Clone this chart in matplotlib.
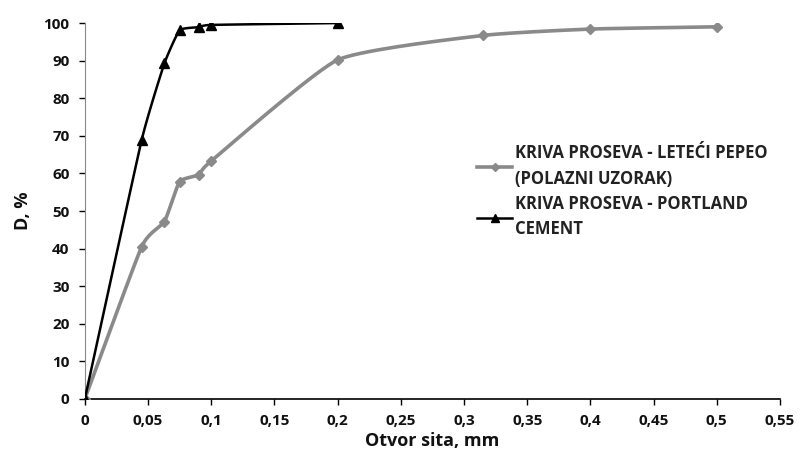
import numpy as np
import matplotlib
matplotlib.use("Agg")
import matplotlib.pyplot as plt
from matplotlib.ticker import FuncFormatter, MultipleLocator

plt.rcParams['font.family'] = ['Open Sans', 'DejaVu Sans']
plt.rcParams['font.weight'] = 'bold'

fly_x = [0, 0.045, 0.063, 0.075, 0.09, 0.1, 0.2, 0.315, 0.4, 0.5]
fly_y = [0, 40.5, 47.2, 57.8, 59.6, 63.3, 90.2, 96.7, 98.4, 99.0]
cem_x = [0, 0.045, 0.063, 0.075, 0.09, 0.1, 0.2]
cem_y = [0, 68.9, 89.3, 98.1, 98.9, 99.5, 100.0]

label_fly = "KRIVA PROSEVA - LETEĆI PEPEO\n(POLAZNI UZORAK)"
label_cem = "KRIVA PROSEVA - PORTLAND\nCEMENT"


def smooth(x, y, n=20, k=0.5):
    # Cardinal spline smoothing (like Excel smoothed lines), drawing only
    x = np.asarray(x, float); y = np.asarray(y, float)
    px = np.concatenate([[2*x[0]-x[1]], x, [2*x[-1]-x[-2]]])
    py = np.concatenate([[2*y[0]-y[1]], y, [2*y[-1]-y[-2]]])
    ox, oy = [], []
    t = np.linspace(0, 1, n)
    for i in range(1, len(px)-2):
        p0, p1, p2, p3 = [np.array([px[j], py[j]]) for j in (i-1, i, i+1, i+2)]
        m1 = (p2 - p0) / 2 * k
        m2 = (p3 - p1) / 2 * k
        h00 = 2*t**3 - 3*t**2 + 1
        h10 = t**3 - 2*t**2 + t
        h01 = -2*t**3 + 3*t**2
        h11 = t**3 - t**2
        pts = (np.outer(h00, p1) + np.outer(h10, m1) + np.outer(h01, p2) + np.outer(h11, m2))
        ox.extend(pts[:, 0]); oy.extend(pts[:, 1])
    oy = np.minimum(oy, 100)
    return np.array(ox), np.array(oy)


fig = plt.figure(figsize=(8.0, 4.61), dpi=100)
ax = fig.add_axes([0.106, 0.1345, 0.869, 0.8155])

gray = '#8a8a8a'
sx, sy = smooth(fly_x, fly_y)
ax.plot(sx, sy, color=gray, lw=2.6, zorder=2)
ax.plot(fly_x, fly_y, linestyle='none', marker='D', ms=5, color=gray, zorder=3)
ax.plot([], [], color=gray, lw=2.6, marker='D', ms=4, label=label_fly)

cx, cy = smooth(cem_x, cem_y, k=0.4)
ax.plot(cx, cy, color='black', lw=1.8, zorder=4)
ax.plot(cem_x, cem_y, linestyle='none', marker='^', ms=7, color='black', zorder=5)
ax.plot([], [], color='black', lw=1.8, marker='^', ms=6, label=label_cem)

ax.set_xlim(0, 0.55)
ax.set_ylim(0, 100)
ax.xaxis.set_major_locator(MultipleLocator(0.05))
ax.yaxis.set_major_locator(MultipleLocator(10))

def fmt(v, pos):
    s = ('%.2f' % v).rstrip('0').rstrip('.')
    return s.replace('.', ',')
ax.xaxis.set_major_formatter(FuncFormatter(fmt))

for s in ['top', 'right']:
    ax.spines[s].set_visible(False)
ax.spines['left'].set_color('#888888')
ax.spines['bottom'].set_color('black')
ax.spines['bottom'].set_linewidth(1.2)
ax.tick_params(direction='out', length=4, width=1, labelsize=11, pad=7,
               labelcolor='#111111')

ax.set_xlabel('Otvor sita, mm', fontsize=13, fontweight='bold', labelpad=3, color='#111111')
ax.set_ylabel('D, %', fontsize=13, fontweight='bold', labelpad=8, color='#111111')

leg = ax.legend(loc='upper left', bbox_to_anchor=(0.555, 0.695), frameon=False,
                prop={'size': 12, 'weight': 'bold'}, handlelength=2.1,
                handletextpad=0.15, labelspacing=0.4, borderaxespad=0)
for t in leg.get_texts():
    t.set_color('#222222')
    t.set_linespacing(1.55)

fig.savefig('out.png', dpi=100)
